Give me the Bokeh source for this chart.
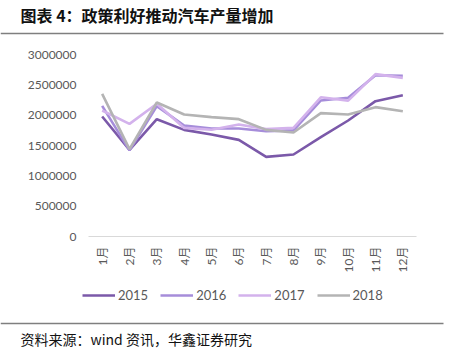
import math
from bokeh.plotting import figure
from bokeh.models import Range1d, Legend, LegendItem, Label
from bokeh.embed import file_html
from bokeh.resources import INLINE

months = ["1月", "2月", "3月", "4月", "5月", "6月", "7月", "8月", "9月", "10月", "11月", "12月"]
y2015 = [1978000, 1429000, 1934000, 1758000, 1681000, 1593000, 1313000, 1352000, 1637000, 1912000, 2231000, 2330000]
y2016 = [2154000, 1420000, 2150000, 1830000, 1780000, 1780000, 1736000, 1750000, 2242000, 2286000, 2659000, 2650000]
y2017 = [2077000, 1857000, 2187000, 1790000, 1760000, 1846000, 1770000, 1790000, 2295000, 2240000, 2676000, 2615000]
y2018 = [2352000, 1440000, 2209000, 2011000, 1967000, 1934000, 1758000, 1714000, 2033000, 2011000, 2132000, 2066000]
series_names = ["2015", "2016", "2017", "2018"]
series_values = [y2015, y2016, y2017, y2018]
series_colors = ["#7b59a9", "#a68dda", "#d3b2ec", "#b4b4b4"]
yticks = [0, 500000, 1000000, 1500000, 2000000, 2500000, 3000000]
ytick_labels = [str(t) for t in yticks]

title_text = "图表 4：政策利好推动汽车产量增加"
source_text = "资料来源：wind 资讯，华鑫证券研究"

# ---- layout (pixels) ----
W, H = 446, 356
PLOT_L, PLOT_R = 88, 416       # x extent of category band
PLOT_T, PLOT_B = 54, 236       # pixel rows of y=3,000,000 and y=0
YMAX = 3000000
xs = list(range(len(months)))
step = (PLOT_R - PLOT_L) / len(months)
x_start = -0.5 - PLOT_L / step
x_end = x_start + W / step
ppx = YMAX / (PLOT_B - PLOT_T)
y_start = -(H - PLOT_B) * ppx
y_end = YMAX + PLOT_T * ppx

p = figure(width=W, height=H, x_range=Range1d(x_start, x_end), y_range=Range1d(y_start, y_end),
           x_axis_type=None, y_axis_type=None, output_backend="svg",
           toolbar_location=None, min_border=0)
p.extra_x_ranges = {"px": Range1d(0, W)}
p.extra_y_ranges = {"px": Range1d(H, 0)}
p.outline_line_color = None
p.xgrid.grid_line_color = None
p.ygrid.grid_line_color = None

NUMFONT = "Lato, Noto Sans CJK SC"
CJK = "Noto Sans CJK SC"
GRAYTXT = "#595959"

# x axis line
p.line(x=[xs[0] - 0.5, xs[-1] + 0.5], y=[0, 0], line_color="#d9d9d9", line_width=1)

# y tick labels
p.text(x=[PLOT_L - 12] * len(yticks), y=yticks, text=ytick_labels, x_range_name="px",
       text_align="right", text_baseline="middle", text_font={"value": NUMFONT},
       text_font_size="12px", text_color=GRAYTXT)

# x tick labels (rotated, reading upwards)
p.text(x=xs, y=[PLOT_B + 10] * len(xs), text=months, y_range_name="px",
       angle=math.pi / 2, text_align="right", text_baseline="middle",
       text_font={"value": NUMFONT}, text_font_size="12px", text_color=GRAYTXT)

items = []
for name, vals, col in zip(series_names, series_values, series_colors):
    r = p.line(xs, vals, line_color=col, line_width=2.6)
    items.append(LegendItem(label=name, renderers=[r]))

legend = Legend(items=items, orientation="horizontal", location=(82, H - 303),
                glyph_width=33, glyph_height=16, label_standoff=3, spacing=12,
                padding=0, margin=0, border_line_color=None, background_fill_alpha=0,
                label_text_font=NUMFONT, label_text_font_size="13px",
                label_text_color=GRAYTXT, label_height=16)
p.add_layout(legend, "center")

# title, rules, source
p.add_layout(Label(x=20, y=14, x_range_name="px", y_range_name="px", text=title_text,
                   text_font=CJK, text_font_style="bold", text_font_size="16px",
                   text_color="#111111", text_baseline="middle", text_align="left"))
p.segment(x0=[0, 0], x1=[443, 443], y0=[33, 323], y1=[33, 323],
          x_range_name="px", y_range_name="px", line_color="#7f7f7f", line_width=1.5)
p.add_layout(Label(x=20, y=338, x_range_name="px", y_range_name="px", text=source_text,
                   text_font=CJK, text_font_size="14px",
                   text_color="#111111", text_baseline="middle", text_align="left"))

open("out.html", "w").write(file_html(p, INLINE))
